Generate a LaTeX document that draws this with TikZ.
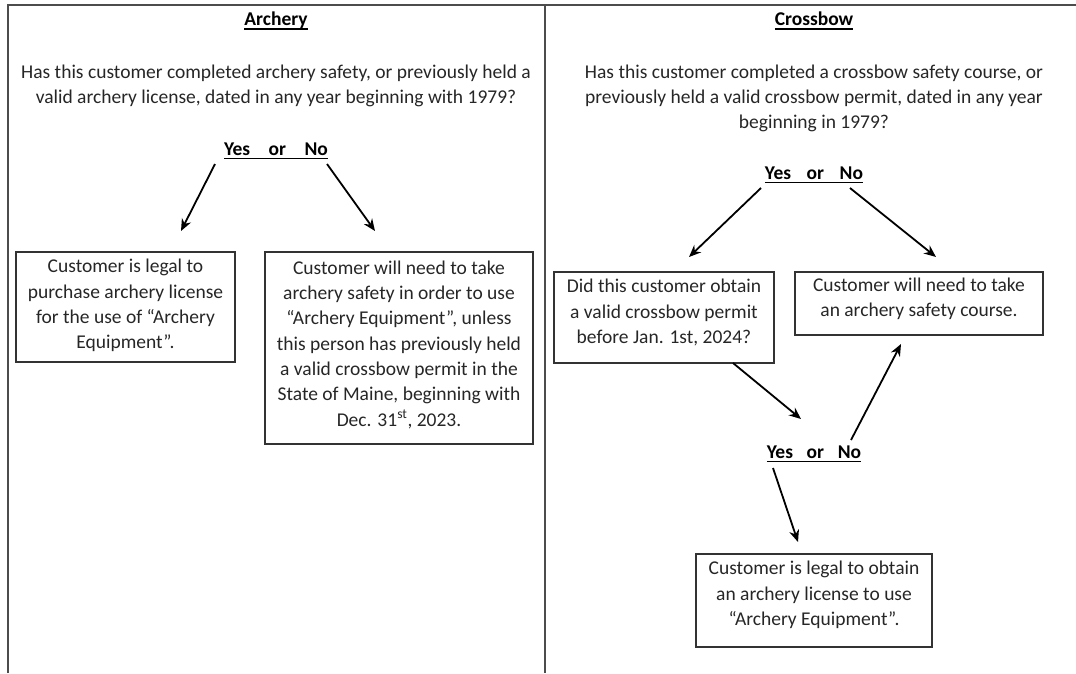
\documentclass[tikz,border=0pt]{standalone}
\usepackage{fontspec}
\setmainfont{Carlito}
\usetikzlibrary{arrows.meta}
\newcommand\myul[1]{\setbox0\hbox{#1}\rlap{\rule[-4pt]{\wd0}{1.8pt}}\box0}
\begin{document}
\begin{tikzpicture}[x=1pt,y=-1pt,
  txt/.style={font=\fontsize{19.5}{25.3}\selectfont, align=center, inner sep=0pt, text=black!85},
  ttl/.style={font=\fontsize{19.5}{25}\selectfont\bfseries, inner sep=0pt},
  box/.style={txt, draw=black!80, line width=1.2pt},
  frame/.style={draw=black!70, line width=1.3pt},
  arr/.style={-{Stealth[length=12pt,width=10pt]}, line width=1.8pt}]
\useasboundingbox (0,0) rectangle (1076,673);
% frame
\draw[frame] (8,673) -- (8,5) -- (1076,5);
\draw[frame] (545,5) -- (545,673);
% titles
\node[ttl] (t1) at (276,21) {\myul{Archery}};
\node[ttl] (t2) at (814,21) {\myul{Crossbow}};
% questions
\node[txt] (q1) at (276,86) {Has this customer completed archery safety, or previously held a\\valid archery license, dated in any year beginning with 1979?};
\node[txt] (q2) at (814,98.5) {Has this customer completed a crossbow safety course, or\\previously held a valid crossbow permit, dated in any year\\beginning in 1979?};
% yes/no
\node[ttl] (yn1) at (276,151) {\myul{Yes\hspace{0.95em}or\hspace{0.95em}No}};
\node[ttl] (yn2) at (814,175) {\myul{Yes\hspace{0.8em}or\hspace{0.8em}No}};
\node[ttl] (yn3) at (814,454) {\myul{Yes\hspace{0.7em}or\hspace{0.7em}No}};
% boxes
\node[box, minimum width=219pt, minimum height=110pt, text depth=6pt] (l1) at (125.5,307) {Customer is legal to\\purchase archery license\\for the use of ``Archery\\Equipment''.};
\node[box, minimum width=268pt, minimum height=192pt, text depth=9pt] (l2) at (399,348) {Customer will need to take\\archery safety in order to use\\``Archery Equipment'', unless\\this person has previously held\\a valid crossbow permit in the\\State of Maine, beginning with\\Dec. 31\textsuperscript{st}, 2023.};
\node[box, minimum width=220pt, minimum height=91pt, text depth=12pt] (r1) at (664,317.5) {Did this customer obtain\\a valid crossbow permit\\before Jan. 1st, 2024?};
\node[box, minimum width=248pt, minimum height=63pt, text depth=12.5pt] (r2) at (919,303.5) {Customer will need to take\\an archery safety course.};
\node[box, minimum width=236pt, minimum height=93pt, text depth=14.5pt] (r3) at (814,600.5) {Customer is legal to obtain\\an archery license to use\\``Archery Equipment''.};
% arrow endpoints
\coordinate (a1s) at (215,164); \coordinate (a1e) at (181,231);
\coordinate (a2s) at (327,164); \coordinate (a2e) at (375,231);
\coordinate (a3s) at (761,188); \coordinate (a3e) at (689,257);
\coordinate (a4s) at (850,188); \coordinate (a4e) at (936,257);
\coordinate (a5s) at (733,363); \coordinate (a5e) at (801,419);
\coordinate (a6s) at (851,440); \coordinate (a6e) at (901,344);
\coordinate (a7s) at (773,468); \coordinate (a7e) at (798,542);
\draw[arr] (a1s) -- (a1e);
\draw[arr] (a2s) -- (a2e);
\draw[arr] (a3s) -- (a3e);
\draw[arr] (a4s) -- (a4e);
\draw[arr] (a5s) -- (a5e);
\draw[arr] (a6s) -- (a6e);
\draw[arr] (a7s) -- (a7e);
\end{tikzpicture}
\end{document}
